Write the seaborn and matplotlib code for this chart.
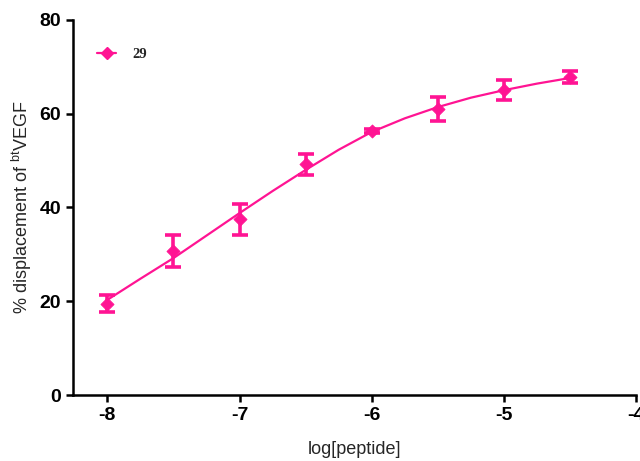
import matplotlib
matplotlib.use("Agg")
import matplotlib.pyplot as plt
from matplotlib.lines import Line2D
import numpy as np
import pandas as pd
import seaborn as sns

# measured points (mean +/- error)
log_conc = [-8.0, -7.5, -7.0, -6.5, -6.0, -5.5, -5.0, -4.5]
displacement = [19.5, 30.7, 37.5, 49.2, 56.3, 61.0, 65.1, 67.8]
err = [1.8, 3.5, 3.3, 2.3, 0.4, 2.5, 2.1, 1.3]

# fitted curve
fit_x = [-8.0, -7.75, -7.5, -7.25, -7.0, -6.75, -6.5, -6.25, -6.0,
         -5.75, -5.5, -5.25, -5.0, -4.75, -4.5]
fit_y = [20.3, 24.8, 29.2, 34.0, 38.8, 43.5, 48.0, 52.3, 56.1,
         59.0, 61.4, 63.4, 65.0, 66.4, 67.6]

pink = "#FF1493"

sns.set_style("ticks")
plt.rcParams['font.family'] = ['Liberation Sans', 'DejaVu Sans']

fig = plt.figure(figsize=(6.4, 4.61), dpi=100)
ax = fig.add_axes([0.114, 0.143, 0.880, 0.814])

pts = pd.DataFrame({"x": log_conc, "y": displacement})
fit = pd.DataFrame({"x": fit_x, "y": fit_y})

sns.lineplot(data=fit, x="x", y="y", ax=ax, color=pink, linewidth=1.6)
ax.errorbar(log_conc, displacement, yerr=err, fmt="none", ecolor=pink,
            elinewidth=2.6, capsize=5.5, capthick=2.6, zorder=3)
sns.scatterplot(data=pts, x="x", y="y", ax=ax, color=pink, marker="D",
                s=45, edgecolor=pink, zorder=4)

ax.set_xlim(-8.26, -4.0)
ax.set_ylim(0, 80)
ax.set_xticks([-8, -7, -6, -5, -4])
ax.set_xticklabels(["-8", "-7", "-6", "-5", "-4"])
ax.set_yticks([0, 20, 40, 60, 80])

for s in ["top", "right"]:
    ax.spines[s].set_visible(False)
for s in ["left", "bottom"]:
    ax.spines[s].set_linewidth(1.8)
    ax.spines[s].set_color("black")
ax.tick_params(axis="both", direction="out", length=5, width=1.8,
               labelsize=14, colors="black")
for lab in ax.get_xticklabels() + ax.get_yticklabels():
    lab.set_fontweight("bold")

ax.set_xlabel("log[peptide]", fontsize=13, labelpad=12)
ax.set_ylabel(r"% displacement of $^{\mathregular{bt}}$VEGF", fontsize=13, labelpad=4)

handle = Line2D([], [], color=pink, marker="D", markersize=6, linewidth=1.6)
leg = ax.legend([handle], ["29"], loc="upper left", frameon=False,
                bbox_to_anchor=(0.02, 0.96), handlelength=1.3, handletextpad=1.1,
                prop={"family": "Liberation Serif", "weight": "bold", "size": 10.5})

fig.savefig("out.png", dpi=100)
